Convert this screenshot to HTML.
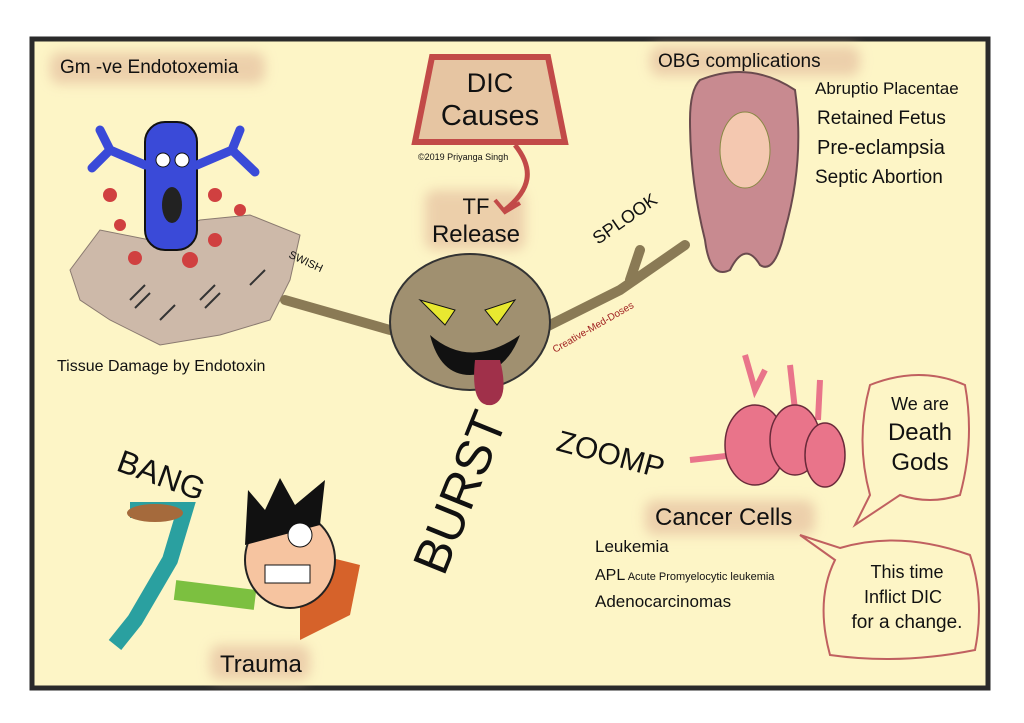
<!DOCTYPE html>
<html><head><meta charset="utf-8"><style>
html,body{margin:0;padding:0;background:#fff;width:1024px;height:723px;overflow:hidden}
svg{display:block}
text{font-family:"Comic Sans MS","Liberation Sans",sans-serif;fill:#111}
</style></head><body>
<svg width="1024" height="723" viewBox="0 0 1024 723" xmlns="http://www.w3.org/2000/svg">
<defs>
<filter id="g" x="-20%" y="-40%" width="140%" height="180%"><feGaussianBlur stdDeviation="6"/></filter>
</defs>
<rect x="32" y="39" width="956" height="649" fill="#fdf5c6" stroke="#2a2a2a" stroke-width="5"/>
<g fill="#e8c6a4" opacity="0.8" filter="url(#g)">
<rect x="50" y="52" width="215" height="32" rx="10"/>
<rect x="650" y="46" width="210" height="30" rx="10"/>
<rect x="425" y="190" width="100" height="60" rx="10"/>
<rect x="210" y="645" width="100" height="35" rx="10"/>
<rect x="645" y="500" width="170" height="35" rx="10"/>
</g>
<text x="60" y="73" font-size="19">Gm -ve Endotoxemia</text>
<path d="M70,270 L100,230 L150,240 L200,220 L250,215 L300,235 L290,280 L270,320 L220,335 L160,345 L110,320 L80,300 Z" fill="#cdb9a9" stroke="#8a7a70"/>
<g stroke="#333" stroke-width="2"><path d="M130,300 l15,-15 M135,308 l15,-15 M200,300 l15,-15 M205,308 l15,-15 M250,285 l15,-15 M160,320 l15,-15"/></g>
<g fill="#d04040"><circle cx="110" cy="195" r="7"/><circle cx="120" cy="225" r="6"/><circle cx="215" cy="195" r="7"/><circle cx="240" cy="210" r="6"/><circle cx="190" cy="260" r="8"/><circle cx="135" cy="258" r="7"/><circle cx="215" cy="240" r="7"/></g>
<rect x="145" y="122" width="52" height="128" rx="20" fill="#3a4ad8" stroke="#111" stroke-width="2"/>
<path d="M145,165 L110,150 L92,168 M110,150 L100,130 M197,165 L232,150 L255,172 M232,150 L240,130" stroke="#3a4ad8" stroke-width="9" fill="none" stroke-linecap="round"/>
<circle cx="163" cy="160" r="7" fill="#fff" stroke="#111"/><circle cx="182" cy="160" r="7" fill="#fff" stroke="#111"/>
<ellipse cx="172" cy="205" rx="10" ry="18" fill="#222"/>
<text x="57" y="371" font-size="16">Tissue Damage by Endotoxin</text>
<text x="290" y="262" font-size="11" transform="rotate(25 300 255)">SWISH</text>
<path d="M432,57 L548,57 L565,142 L415,142 Z" fill="#e6c5a2" stroke="#c24a48" stroke-width="6"/>
<text x="490" y="92" font-size="27" text-anchor="middle">DIC</text>
<text x="490" y="125" font-size="29" text-anchor="middle">Causes</text>
<text x="418" y="160" font-size="9" style="font-family:'Liberation Sans',sans-serif">©2019 Priyanga Singh</text>
<path d="M515,145 C535,170 530,190 505,210" stroke="#c24a48" stroke-width="5" fill="none"/>
<path d="M495,200 L505,212 L520,203" stroke="#c24a48" stroke-width="4" fill="none"/>
<text x="476" y="214" font-size="22" text-anchor="middle">TF</text>
<text x="476" y="242" font-size="24" text-anchor="middle">Release</text>
<path d="M285,300 L320,310 L390,330 M540,330 L620,290 L685,245 M630,280 L640,250" stroke="#8a7a55" stroke-width="10" fill="none" stroke-linecap="round"/>
<ellipse cx="470" cy="322" rx="80" ry="68" fill="#a09070" stroke="#333" stroke-width="2"/>
<path d="M420,300 L455,310 L445,325 Z M515,300 L485,310 L497,325 Z" fill="#e8e830" stroke="#111"/>
<path d="M430,335 Q470,370 520,335 Q505,375 470,375 Q440,375 430,335 Z" fill="#111"/>
<path d="M475,360 Q470,408 492,405 Q510,400 500,360 Z" fill="#a0304a"/>
<text x="555" y="353" font-size="10" transform="rotate(-30 555 353)" style="fill:#a02020">Creative-Med-Doses</text>
<text x="598" y="245" font-size="18" transform="rotate(-35 598 245)">SPLOOK</text>
<path d="M700,80 Q750,60 795,90 Q805,160 785,230 Q775,275 760,265 Q745,240 730,270 Q710,280 705,240 Q690,180 690,120 Q690,90 700,80 Z" fill="#c88a90" stroke="#6a4a4e" stroke-width="2"/>
<ellipse cx="745" cy="150" rx="25" ry="38" fill="#f4c8b0" stroke="#884"/>
<text x="658" y="67" font-size="19">OBG complications</text>
<text x="815" y="94" font-size="17">Abruptio Placentae</text>
<text x="817" y="124" font-size="19">Retained Fetus</text>
<text x="817" y="154" font-size="20">Pre-eclampsia</text>
<text x="815" y="183" font-size="19">Septic Abortion</text>
<g fill="#e9748a" stroke="#6a2a3a" stroke-width="1.5">
<path d="M745,355 L755,390 L765,370 M790,365 L795,410 M820,380 L818,420 M690,460 L735,455" stroke="#e9748a" stroke-width="6" fill="none"/>
<ellipse cx="755" cy="445" rx="30" ry="40"/><ellipse cx="795" cy="440" rx="25" ry="35"/><ellipse cx="825" cy="455" rx="20" ry="32"/>
</g>
<text x="655" y="525" font-size="24">Cancer Cells</text>
<text x="595" y="552" font-size="17">Leukemia</text>
<text x="595" y="580" font-size="16">APL<tspan font-size="11"> Acute Promyelocytic leukemia</tspan></text>
<text x="595" y="607" font-size="17">Adenocarcinomas</text>
<text x="555" y="450" font-size="30" transform="rotate(15 555 450)">ZOOMP</text>
<path d="M870,385 Q920,365 965,385 Q975,440 960,495 Q930,505 900,495 L855,525 L870,495 Q855,440 870,385 Z" fill="#fdf5c6" stroke="#c06060" stroke-width="2"/>
<text x="920" y="410" font-size="18" text-anchor="middle">We are</text>
<text x="920" y="440" font-size="24" text-anchor="middle">Death</text>
<text x="920" y="470" font-size="24" text-anchor="middle">Gods</text>
<path d="M800,535 L840,548 Q900,530 970,555 Q985,600 975,650 Q900,665 830,655 Q815,600 835,560 Z" fill="#fdf5c6" stroke="#c06060" stroke-width="2"/>
<text x="907" y="578" font-size="18" text-anchor="middle">This time</text>
<text x="903" y="603" font-size="18" text-anchor="middle">Inflict DIC</text>
<text x="907" y="628" font-size="19" text-anchor="middle">for a change.</text>
<text x="115" y="470" font-size="32" transform="rotate(20 115 470)">BANG</text>
<path d="M300,550 L360,565 L350,615 L300,640 Z" fill="#d6622a"/>
<path d="M130,510 L185,510 L170,560 L135,620 L115,645" stroke="#2aa0a0" stroke-width="16" fill="none"/>
<ellipse cx="155" cy="513" rx="28" ry="9" fill="#a56a3c"/>
<path d="M175,590 L255,600" stroke="#7cc040" stroke-width="20"/>
<ellipse cx="290" cy="560" rx="45" ry="48" fill="#f6c4a0" stroke="#222" stroke-width="2"/>
<path d="M245,545 L248,490 L265,510 L280,478 L295,505 L325,480 L320,525 Z" fill="#111"/>
<rect x="265" y="565" width="45" height="18" fill="#fff" stroke="#111"/>
<circle cx="300" cy="535" r="12" fill="#fff" stroke="#111"/>
<text x="220" y="672" font-size="24">Trauma</text>
<text x="385" y="590" font-size="50" transform="rotate(-68 405 540)">BURST</text>
</svg>
</body></html>
